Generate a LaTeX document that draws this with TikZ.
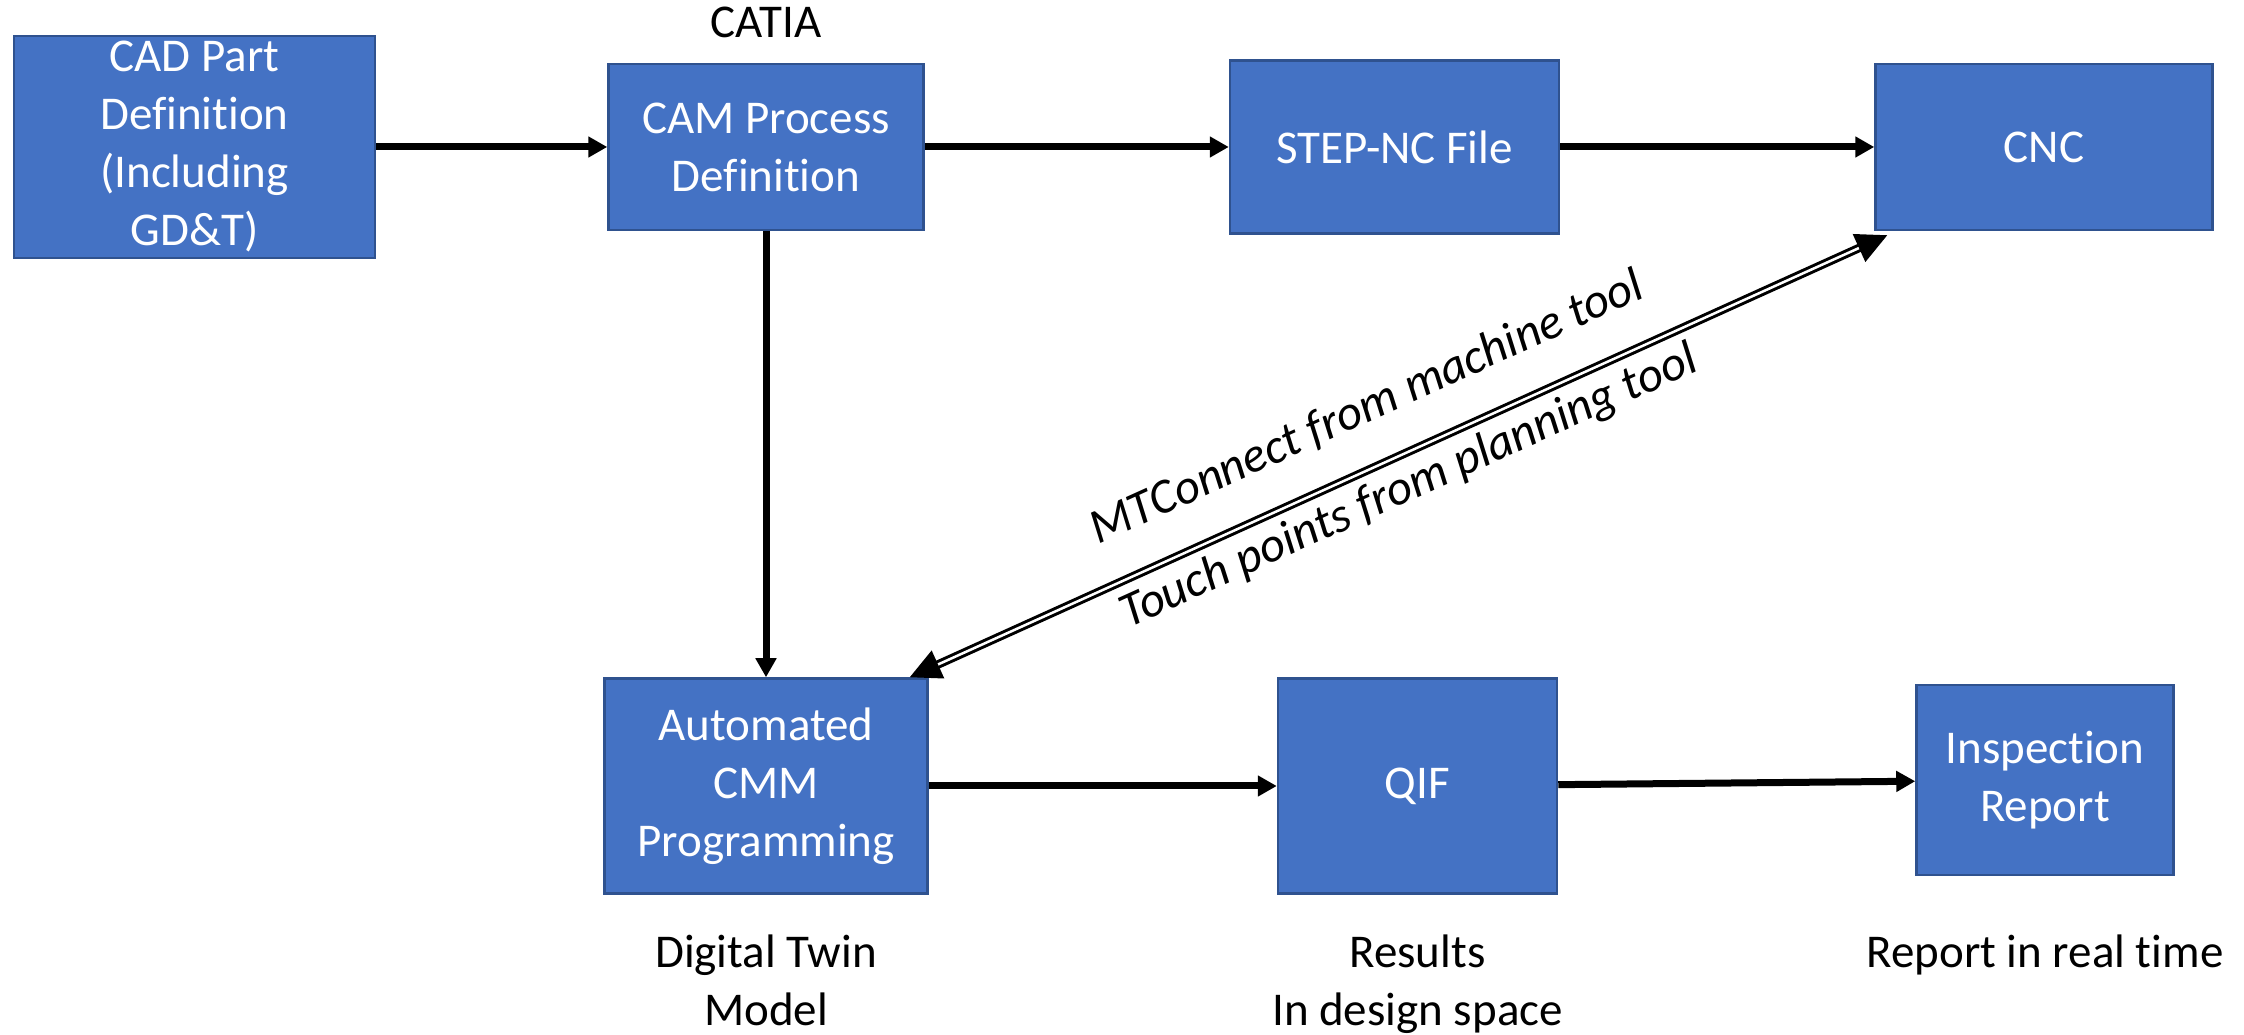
\documentclass[tikz,border=0pt]{standalone}
\usepackage{fontspec}
\setmainfont[Ligatures=NoCommon]{Carlito}
\usetikzlibrary{arrows.meta}
\usetikzlibrary{calc}
\usetikzlibrary{positioning}
\definecolor{boxblue}{HTML}{4472C4}
\definecolor{boxedge}{HTML}{2F528F}

\begin{document}
\begin{tikzpicture}[
		x=1pt,y=1pt,
		>={Triangle[length=19pt,width=20pt]},
		block/.style={draw=boxedge,fill=boxblue,line width=2.5pt,rectangle,text=white,align=center,inner sep=0pt},
		note/.style={draw=none,fill=none,align=center,inner sep=0pt},
		flow/.style={->,line width=7pt},
		link/.style={{Triangle[length=31pt,width=30pt]}-{Triangle[length=31pt,width=30pt]},double=white,double distance=2.5pt,line width=3pt}
	]\fontsize{47}{58}\selectfont
		\useasboundingbox (0,0) rectangle (2244,1034);

		\node [block,minimum width=361pt,minimum height=222pt] (cad) at (194.5,887) {CAD Part\\Definition\\(Including\\GD\&T)};
		\node [block,minimum width=315pt,minimum height=166pt,right=231pt of cad] (cam) {CAM Process\\Definition};
		\node [block,minimum width=329pt,minimum height=173pt,right=304pt of cam] (stepnc) {STEP-NC File};
		\node [block,minimum width=337pt,minimum height=166pt,right=314pt of stepnc] (cnc) {CNC};
		\node [note,above=25pt of cam] (catia) {CATIA};

		\node [block,minimum width=323pt,minimum height=215pt,below=446pt of cam] (cmm) {Automated\\CMM\\Programming};
		\node [block,minimum width=279pt,minimum height=215pt,right=348pt of cmm] (qif) {QIF};
		\node [block,minimum width=257pt,minimum height=190pt,right=357pt of qif,yshift=6pt] (insp) {Inspection\\Report};

		\node [note,below=40pt of cmm] (twin) {Digital Twin\\Model};
		\node [note,below=40pt of qif] (results) {Results\\In design space};
		\node [note,below=58pt of insp] (realtime) {Report in real time};

		\coordinate (linklo) at ($(cmm.north east)+(-19,0)$);
		\coordinate (linkhi) at ($(cnc.south west)+(13,-4)$);

		\draw [flow] (cad) -- (cam);
		\draw [flow] (cam) -- (stepnc);
		\draw [flow] (stepnc) -- (cnc);
		\draw [flow] (cam) -- (cmm);
		\draw [flow] (cmm) -- (qif);
		\draw [flow] (qif) -- (insp);

		\draw [link] (linklo) -- (linkhi)
			node [pos=0.492,sloped,above=36pt,inner sep=0pt,font=\fontsize{49}{58}\selectfont\itshape] {MTConnect from machine tool}
			node [pos=0.497,sloped,below=10pt,inner sep=0pt,font=\fontsize{49}{58}\selectfont\itshape] {Touch points from planning tool};
	\end{tikzpicture}
\end{document}
